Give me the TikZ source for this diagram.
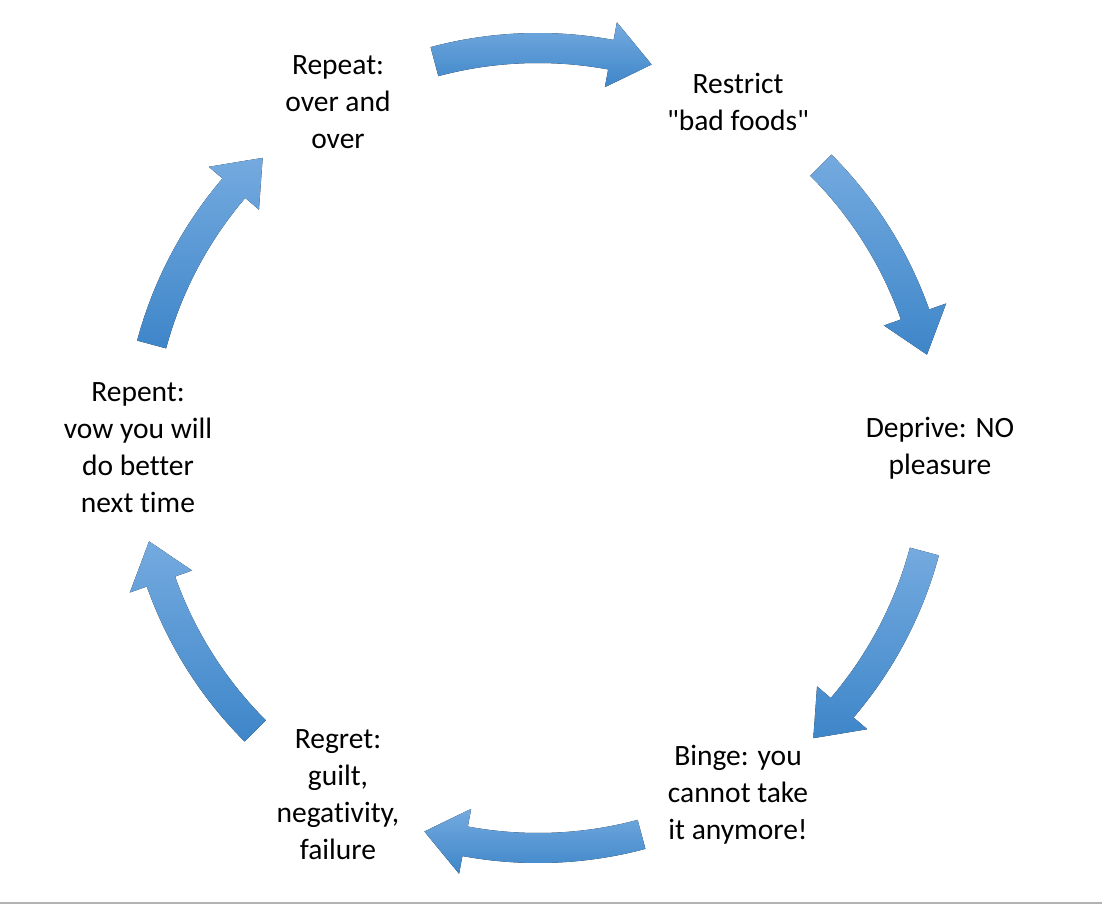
\documentclass[tikz,border=0pt]{standalone}
\usepackage{fontspec}
\setmainfont{Carlito}[Ligatures={NoCommon}]
\definecolor{arrowlight}{HTML}{74AADF}
\definecolor{arrowdark}{HTML}{3E86C9}
\tikzset{
  stage/.style={align=center, font=\fontsize{29.5}{37}\selectfont},
  cyclearrow/.style={top color=arrowlight, bottom color=arrowdark, draw=none}
}
\begin{document}
\begin{tikzpicture}
\useasboundingbox (0pt,0pt) rectangle (1102pt,906pt);

% the six stages
\node[stage] (repeat)   at (338pt,804pt) {Repeat:\\over and\\over};
\node[stage] (restrict) at (738pt,804pt) {Restrict\\\textquotedbl bad foods\textquotedbl};
\node[stage] (deprive)  at (940pt,458pt) {Deprive: NO\\pleasure};
\node[stage] (binge)    at (738pt,111pt) {Binge: you\\cannot take\\it anymore!};
\node[stage] (regret)   at (338pt,111pt) {Regret:\\guilt,\\negativity,\\failure};
\node[stage] (repent)   at (138pt,458pt) {Repent:\\vow you will\\do better\\next time};

% arrows round the cycle
\begin{scope}[shift={(538pt,458pt)}]
\foreach \a in {90,30,-30,-90,-150,150}{
  \fill[cyclearrow] (\a+15:415pt) arc[start angle=\a+15, end angle=\a-10.5, radius=415pt]
    -- (\a-10.5:433pt) -- (\a-16.5:400pt) -- (\a-10.5:367pt) -- (\a-10.5:385pt)
    arc[start angle=\a-10.5, end angle=\a+15, radius=385pt] -- cycle;
}
\end{scope}

\draw[gray!60, line width=1.5pt] (0pt,3pt) -- (1102pt,3pt);
\end{tikzpicture}
\end{document}
